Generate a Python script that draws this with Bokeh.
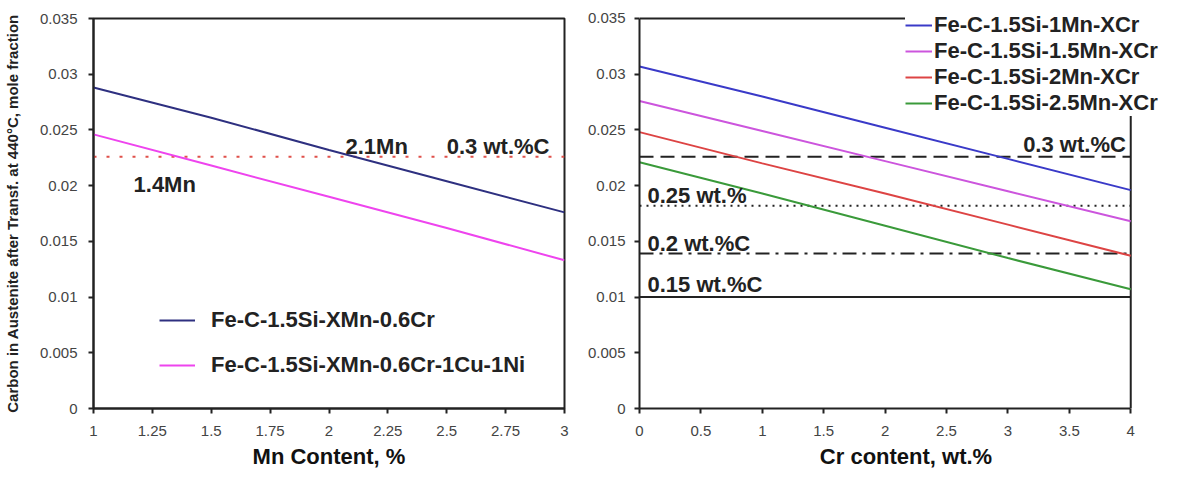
from bokeh.plotting import figure
from bokeh.layouts import row
from bokeh.models import Legend, LegendItem, FixedTicker, ColumnDataSource
from bokeh.core.properties import value
from bokeh.embed import file_html
from bokeh.resources import INLINE

# ---------------- data ----------------
mn = [1.0, 1.5, 2.0, 2.5, 3.0]
mn_base = [0.0288, 0.0261, 0.0232, 0.0204, 0.0176]
mn_cuni = [0.0246, 0.0218, 0.0190, 0.0162, 0.0133]
mn_ref_c = 0.0226

cr = [0.0, 1.0, 2.0, 3.0, 4.0]
cr_1mn = [0.0307, 0.0280, 0.0252, 0.0224, 0.0196]
cr_15mn = [0.0276, 0.0249, 0.0222, 0.0195, 0.0168]
cr_2mn = [0.0248, 0.0220, 0.0193, 0.0165, 0.0137]
cr_25mn = [0.0221, 0.0193, 0.0164, 0.0135, 0.0107]
cr_ref_c = [0.0226, 0.0182, 0.0139, 0.0100]
cr_ref_labels = ["0.3 wt.%C", "0.25 wt.%", "0.2 wt.%C", "0.15 wt.%C"]

left_names = ["Fe-C-1.5Si-XMn-0.6Cr", "Fe-C-1.5Si-XMn-0.6Cr-1Cu-1Ni"]
right_names = ["Fe-C-1.5Si-1Mn-XCr", "Fe-C-1.5Si-1.5Mn-XCr",
               "Fe-C-1.5Si-2Mn-XCr", "Fe-C-1.5Si-2.5Mn-XCr"]

y_ticks = [0, 0.005, 0.01, 0.015, 0.02, 0.025, 0.03, 0.035]
y_tick_labels = ["0", "0.005", "0.01", "0.015", "0.02", "0.025", "0.03", "0.035"]
mn_ticks = [1, 1.25, 1.5, 1.75, 2, 2.25, 2.5, 2.75, 3]
mn_tick_labels = ["1", "1.25", "1.5", "1.75", "2", "2.25", "2.5", "2.75", "3"]
cr_ticks = [0, 0.5, 1, 1.5, 2, 2.5, 3, 3.5, 4]
cr_tick_labels = ["0", "0.5", "1", "1.5", "2", "2.5", "3", "3.5", "4"]

FONT = "Liberation Sans"
BIG = "22px"
FRAME = "#222222"


def style(p, xticks, xlabels):
    p.xgrid.visible = False
    p.ygrid.visible = False
    for ax in (p.xaxis, p.yaxis):
        ax.axis_line_color = FRAME
        ax.axis_line_width = 2
        ax.major_tick_line_color = FRAME
        ax.major_tick_line_width = 2
        ax.major_tick_out = 5
        ax.major_tick_in = 0
        ax.minor_tick_line_color = None
        ax.major_label_text_font = FONT
        ax.major_label_text_font_size = "15px"
        ax.major_label_text_color = "#444444"
    p.xaxis.ticker = FixedTicker(ticks=xticks)
    p.xaxis.major_label_overrides = {t: l for t, l in zip(xticks, xlabels)}
    p.yaxis.ticker = FixedTicker(ticks=y_ticks)
    p.yaxis.major_label_overrides = {t: l for t, l in zip(y_ticks, y_tick_labels)}
    p.xaxis.major_label_standoff = 12
    p.xaxis.axis_label_text_font = FONT
    p.xaxis.axis_label_text_font_size = BIG
    p.xaxis.axis_label_text_font_style = "bold"
    p.xaxis.axis_label_text_color = "#111111"
    p.xaxis.axis_label_standoff = 5


# ---------------- left panel ----------------
p1 = figure(width=580, height=472, x_range=(1, 3), y_range=(0, 0.035),
            output_backend="svg", toolbar_location=None, title=None,
            frame_align=False,
            min_border_left=90, min_border_right=16, min_border_top=18,
            min_border_bottom=64)
p1.outline_line_color = FRAME
p1.outline_line_width = 2
style(p1, mn_ticks, mn_tick_labels)
p1.xaxis.axis_label = "Mn Content, %"
p1.yaxis.axis_label = "Carbon in Austenite after Transf. at 440°C, mole fraction"
p1.yaxis.axis_label_text_font = FONT
p1.yaxis.axis_label_text_font_size = "15px"
p1.yaxis.axis_label_text_font_style = "bold"
p1.yaxis.axis_label_text_color = "#222222"
p1.yaxis.major_label_standoff = 11
p1.yaxis.axis_label_standoff = 16

p1.line([mn[0], mn[-1]], [mn_ref_c, mn_ref_c], line_color="#e0504a",
        line_width=2, line_dash="3 10")
l1 = p1.line(mn, mn_base, line_color="#2e3080", line_width=2)
l2 = p1.line(mn, mn_cuni, line_color="#ee44ee", line_width=2)

ann_left = ColumnDataSource(dict(x=[2.07, 2.5, 1.17], y=[0.0235, 0.0235, 0.0201],
                                 t=["2.1Mn", "0.3 wt.%C", "1.4Mn"]))
p1.text("x", "y", text="t", source=ann_left, text_font=value(FONT),
        text_font_size=BIG, text_font_style="bold", text_color="#222222",
        text_baseline="middle", text_align="left")

leg1 = Legend(items=[LegendItem(label=left_names[0], renderers=[l1]),
                     LegendItem(label=left_names[1], renderers=[l2])],
              location=(66, 30), orientation="vertical")
leg1.background_fill_alpha = 0
leg1.border_line_color = None
leg1.padding = 0
leg1.spacing = 19
leg1.glyph_width = 36
leg1.glyph_height = 22
leg1.label_standoff = 16
leg1.label_text_font = FONT
leg1.label_text_font_size = BIG
leg1.label_text_font_style = "bold"
leg1.label_text_color = "#222222"
leg1.margin = 0
p1.add_layout(leg1)

# ---------------- right panel ----------------
# The frame runs a little past Cr = 4 and above 0.035 so the legend can
# overhang the plot border, as in the original; the border is drawn by hand.
p2 = figure(width=602, height=472, x_range=(0, 4.34), y_range=(0, 0.036615),
            output_backend="svg", toolbar_location=None, title=None,
            frame_align=False,
            min_border_left=59, min_border_right=10, min_border_top=0,
            min_border_bottom=64)
p2.outline_line_color = None
style(p2, cr_ticks, cr_tick_labels)
p2.xaxis.bounds = (0, 4)
p2.yaxis.bounds = (0, 0.035)
p2.xaxis.axis_label = "Cr content, wt.%"
p2.yaxis.major_label_standoff = 9

# plot border (top and right) at the axis limits
p2.line([cr[0], cr[-1]], [y_ticks[-1], y_ticks[-1]], line_color=FRAME, line_width=2)
p2.line([cr[-1], cr[-1]], [y_ticks[0], y_ticks[-1]], line_color=FRAME, line_width=2)

dashes = ["14 7", "2 5", "14 6 3 6", "solid"]
for yv, d in zip(cr_ref_c, dashes):
    p2.line([cr[0], cr[-1]], [yv, yv], line_color="#222222", line_width=2,
            line_dash=d)

colors = ["#3a3ac8", "#cc55dd", "#dd4444", "#3a9a3a"]
series = [cr_1mn, cr_15mn, cr_2mn, cr_25mn]
rends = []
for s, c in zip(series, colors):
    rends.append(p2.line(cr, s, line_color=c, line_width=2))

ann_r1 = ColumnDataSource(dict(x=[3.96], y=[0.0237], t=[cr_ref_labels[0]]))
p2.text("x", "y", text="t", source=ann_r1, text_font=value(FONT),
        text_font_size=BIG, text_font_style="bold", text_color="#222222",
        text_baseline="middle", text_align="right")
ann_r2 = ColumnDataSource(dict(x=[0.065, 0.065, 0.065], y=[0.0191, 0.0148, 0.0111],
                               t=cr_ref_labels[1:]))
p2.text("x", "y", text="t", source=ann_r2, text_font=value(FONT),
        text_font_size=BIG, text_font_style="bold", text_color="#222222",
        text_baseline="middle", text_align="left")

leg2 = Legend(items=[LegendItem(label=n, renderers=[r]) for n, r in zip(right_names, rends)],
              location=(266, 292), orientation="vertical")
leg2.background_fill_color = "white"
leg2.background_fill_alpha = 1
leg2.border_line_color = None
leg2.padding = 5
leg2.spacing = 0
leg2.glyph_width = 27
leg2.glyph_height = 22
leg2.label_height = 22
leg2.label_standoff = 2
leg2.label_text_font = FONT
leg2.label_text_font_size = BIG
leg2.label_text_font_style = "bold"
leg2.label_text_color = "#222222"
leg2.margin = 0
p2.add_layout(leg2)

layout = row(p1, p2)
open("out.html", "w").write(file_html(layout, INLINE))
